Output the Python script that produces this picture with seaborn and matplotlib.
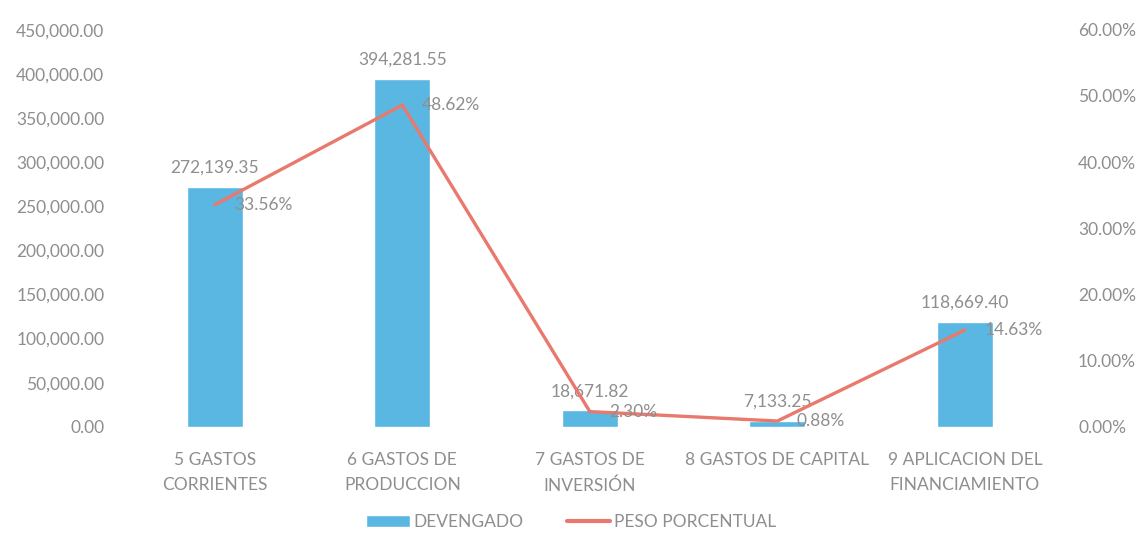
import numpy as np
import pandas as pd
import matplotlib
matplotlib.use('Agg')
import matplotlib.pyplot as plt
import seaborn as sns
from matplotlib.ticker import FuncFormatter
from matplotlib.patches import Patch
from matplotlib.lines import Line2D

# Data
categories = ['5 GASTOS\nCORRIENTES', '6 GASTOS DE\nPRODUCCION', '7 GASTOS DE\nINVERSIÓN',
              '8 GASTOS DE CAPITAL', '9 APLICACION DEL\nFINANCIAMIENTO']
devengado = [272139.35, 394281.55, 18671.82, 7133.25, 118669.40]
peso = [33.56, 48.62, 2.30, 0.88, 14.63]

bar_color = '#5AB7E2'
line_color = '#E8796C'
text_color = '#8E8E8E'

sns.set_style('white')
plt.rcParams['font.family'] = ['Lato', 'DejaVu Sans']

df = pd.DataFrame({'cat': categories, 'dev': devengado, 'pct': peso})

fig = plt.figure(figsize=(11.42, 5.41), dpi=100)
ax = fig.add_axes([0.106, 0.211, 0.821, 0.734])
sns.barplot(data=df, x='cat', y='dev', color=bar_color, width=0.3, saturation=1, ax=ax)
ax.set_ylim(0, 450000)
ax.set_yticks(np.arange(0, 450001, 50000))
ax.yaxis.set_major_formatter(FuncFormatter(lambda v, p: f'{v:,.2f}'))
ax.set_xlabel('')
ax.set_ylabel('')
ax.tick_params(axis='both', colors=text_color, labelsize=12.5, length=0)
ax.tick_params(axis='x', pad=18)
ax.tick_params(axis='y', pad=12)
for lbl in ax.get_xticklabels():
    lbl.set_linespacing(1.7)
for i, v in enumerate(devengado):
    ax.annotate(f'{v:,.2f}', (i, v), xytext=(0, 8), textcoords='offset points',
                ha='center', va='bottom', fontsize=12.5, color=text_color)

ax2 = ax.twinx()
sns.lineplot(x=np.arange(len(peso)), y=[p / 100 for p in peso], color=line_color,
             linewidth=2.4, ax=ax2)
ax2.set_ylim(0, 0.6)
ax2.set_yticks(np.arange(0, 0.61, 0.1))
ax2.yaxis.set_major_formatter(FuncFormatter(lambda v, p: f'{v * 100:.2f}%'))
ax2.tick_params(axis='y', colors=text_color, labelsize=12.5, length=0, pad=14)
for i, p in enumerate(peso):
    ax2.annotate(f'{p:.2f}%', (i, p / 100), xytext=(14, 0), textcoords='offset points',
                 ha='left', va='center', fontsize=12.5, color=text_color)
ax.set_xlim(-0.5, len(categories) - 0.5)

for a in (ax, ax2):
    for s in a.spines.values():
        s.set_visible(False)
ax.grid(False)
ax2.grid(False)

handles = [Patch(facecolor=bar_color, label='DEVENGADO'),
           Line2D([0], [0], color=line_color, linewidth=3, label='PESO PORCENTUAL')]
fig.legend(handles=handles, loc='lower center', bbox_to_anchor=(0.5, -0.008), ncol=2,
           frameon=False, fontsize=12.5, labelcolor=text_color, handlelength=2.5,
           handletextpad=0.2, columnspacing=2.5)

fig.savefig('out.png', dpi=100, facecolor='white')
